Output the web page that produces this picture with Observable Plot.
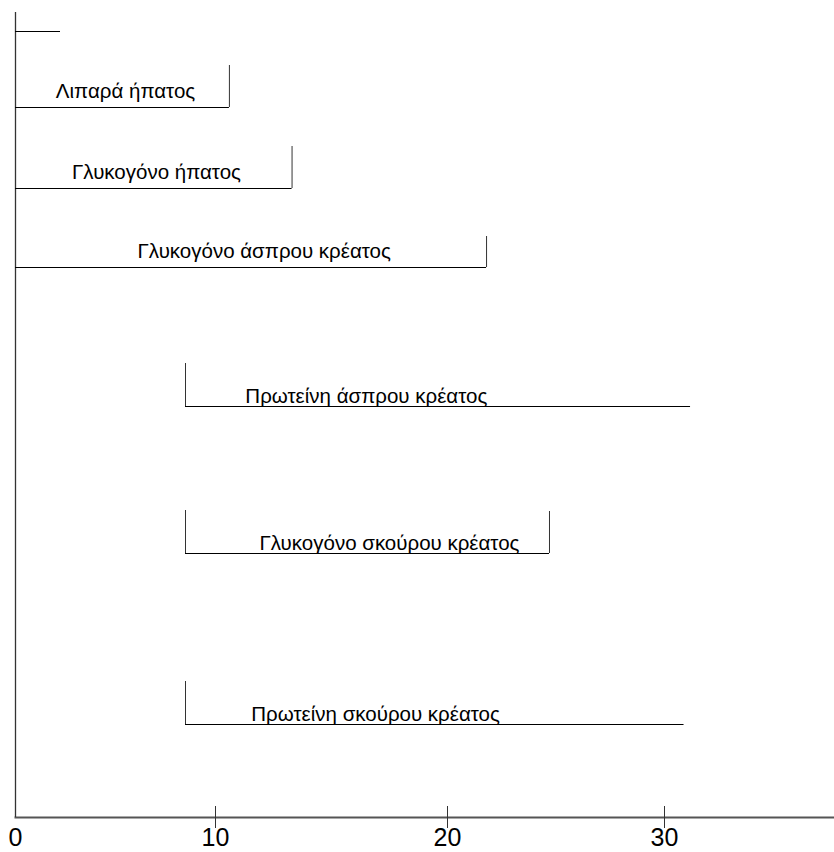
<!DOCTYPE html>
<html><head><meta charset="utf-8">
<script src="https://cdn.jsdelivr.net/npm/d3@7"></script>
<script src="https://cdn.jsdelivr.net/npm/@observablehq/plot@0.6"></script>
<style>body{margin:0;background:#fff;} svg{display:block;}</style>
</head><body><div id="chart"></div>
<script>
// Rows, top to bottom
const rows = [0, 1, 2, 3, 4, 5, 6];
const labels = ["", "Λιπαρά ήπατος", "Γλυκογόνο ήπατος", "Γλυκογόνο άσπρου κρέατος",
  "Πρωτείνη άσπρου κρέατος", "Γλυκογόνο σκούρου κρέατος", "Πρωτείνη σκούρου κρέατος"];
const starts = [0, 0, 0, 0, 8.5, 8.5, 8.5];
const ends = [2.25, 10.6, 13.3, 21.8, 31.2, 24.7, 30.9];
const labelAt = [null, 5.5, 7.05, 12.1, 16.5, 17.5, 16.9];
const leftCap = [false, false, false, false, true, true, true];
const rightCap = [false, true, true, true, false, true, false];
const xTicks = [0, 10, 20, 30];
const xTickLabels = ["0", "10", "20", "30"];

const data = rows.map((r, i) => ({row: r, label: labels[i], start: starts[i], end: ends[i],
  labelAt: labelAt[i], leftCap: leftCap[i], rightCap: rightCap[i]}));
const upper = data.filter(d => d.row >= 1 && d.row <= 3);
const lower = data.filter(d => d.row >= 4);

const chart = Plot.plot({
  width: 834, height: 852,
  marginTop: 12, marginBottom: 35, marginLeft: 15, marginRight: 0,
  style: {fontFamily: "'Liberation Sans', Arial, sans-serif", background: "#fff", color: "#000", overflow: "visible"},
  x: {type: "linear", domain: xTicks, range: [15, 215, 447, 664]},
  y: {type: "linear", domain: rows, range: [31, 107, 188, 267, 406, 553, 724], axis: null},
  marks: [
    Plot.frame({anchor: "bottom", stroke: "#555", strokeWidth: 2}),
    Plot.ruleX([0], {stroke: "#333", strokeWidth: 1.3}),
    Plot.axisX(xTicks.slice(1), {tickSize: 22, dy: -11, tickFormat: () => "", stroke: "#333"}),
    Plot.axisX(xTicks, {tickSize: 0, tickPadding: 11, fontSize: 25, tickFormat: (d, i) => xTickLabels[i], fill: "#000"}),
    Plot.ruleY(data, {y: "row", x1: "start", x2: "end", stroke: "#000", strokeWidth: 1.2}),
    Plot.ruleX(data.filter(d => d.rightCap && d.row !== 3), {x: "end", y1: "row", y2: "row", insetTop: -42, stroke: "#333"}),
    Plot.ruleX(data.filter(d => d.rightCap && d.row === 3), {x: "end", y1: "row", y2: "row", insetTop: -31, stroke: "#333"}),
    Plot.ruleX(data.filter(d => d.leftCap), {x: "start", y1: "row", y2: "row", insetTop: -43, stroke: "#333"}),
    Plot.text(upper, {x: "labelAt", y: "row", text: "label", fontSize: 20.5, lineAnchor: "bottom", dy: -10, fill: "#000"}),
    Plot.text(lower, {x: "labelAt", y: "row", text: "label", fontSize: 20.5, lineAnchor: "bottom", dy: -4, fill: "#000"})
  ]
});
document.getElementById("chart").append(chart);
</script>
</body></html>
